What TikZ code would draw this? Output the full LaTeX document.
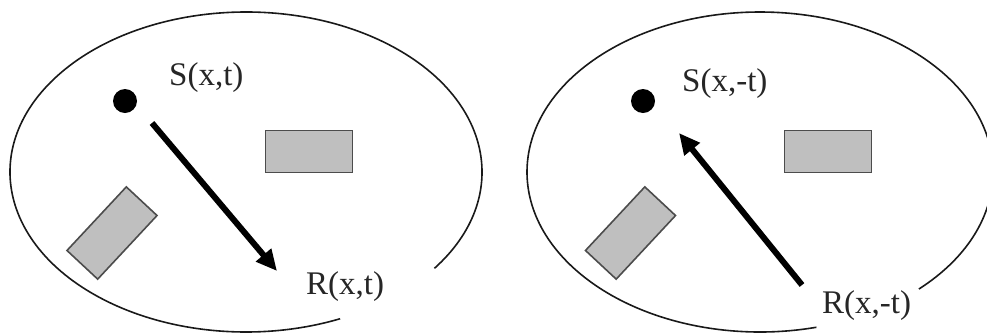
\documentclass[tikz,border=0pt]{standalone}
\usepackage{fontspec}
\setmainfont{Liberation Serif}
\usetikzlibrary{arrows.meta}
\begin{document}
\begin{tikzpicture}[x=1pt,y=-1pt,
 outline/.style={line width=1.6pt, black!90},
 obstacle/.style={draw=black!70, line width=1.6pt, fill=black!25, minimum width=87pt, minimum height=42pt, inner sep=0pt},
 dotnode/.style={circle, fill=black, minimum size=24pt, inner sep=0pt},
 lbl/.style={font=\fontsize{33}{33}\selectfont, text=black!85, inner sep=0pt, anchor=west},
 ray/.style={line width=6pt, black, -{Triangle[length=21pt,width=19pt]}}]
\useasboundingbox (0,0) rectangle (987,333);
% left panel
\coordinate (c1) at (246,172);
\draw[outline] (c1) ++(-37:236pt and 160pt) arc[start angle=-37, end angle=293.5, x radius=236pt, y radius=160pt];
\node[dotnode] (s1) at (125,101) {};
\node[lbl] (ls1) at (169,78) {S(x,t)};
\node[lbl] (lr1) at (306,287) {R(x,t)};
\node[obstacle] (b1) at (309,151.5) {};
\node[obstacle, rotate=47] (b2) at (112,233) {};
\coordinate (a1s) at (152,123);
\coordinate (a1e) at (277,271);
\draw[ray] (a1s) -- (a1e);
% right panel
\coordinate (c2) at (760,172);
\draw[outline] (c2) ++(-47:233pt and 160pt) arc[start angle=-47, end angle=284, x radius=233pt, y radius=160pt];
\node[dotnode] (s2) at (643,101) {};
\node[lbl] (ls2) at (682,84) {S(x,-t)};
\node[lbl] (lr2) at (822,306) {R(x,-t)};
\node[obstacle] (b3) at (828,151.5) {};
\node[obstacle, rotate=47] (b4) at (630.5,233) {};
\coordinate (a2s) at (802,285);
\coordinate (a2e) at (679,133);
\draw[ray] (a2s) -- (a2e);
\end{tikzpicture}
\end{document}
